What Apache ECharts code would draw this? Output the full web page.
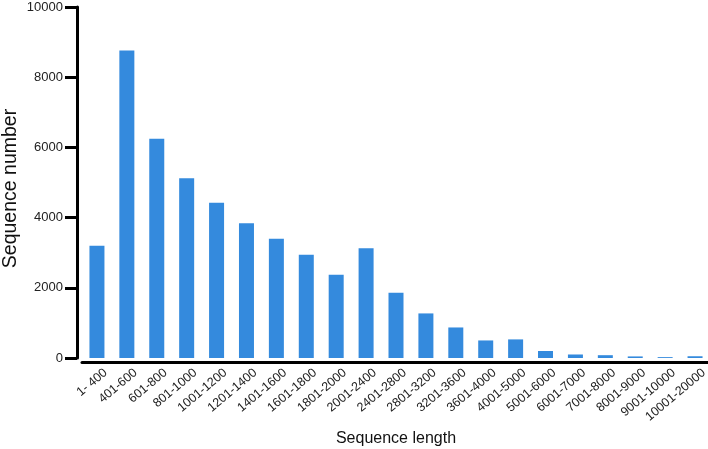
<!DOCTYPE html>
<html>
<head>
<meta charset="utf-8">
<script src="https://cdn.jsdelivr.net/npm/echarts@6/dist/echarts.min.js"></script>
<style>html,body{margin:0;padding:0;background:#fff}#c{width:708px;height:449px}</style>
</head>
<body>
<div id="c"></div>
<script>
var categories = ['1- 400','401-600','601-800','801-1000','1001-1200','1201-1400','1401-1600','1601-1800','1801-2000','2001-2400','2401-2800','2801-3200','3201-3600','3601-4000','4001-5000','5001-6000','6001-7000','7001-8000','8001-9000','9001-10000','10001-20000'];
var counts = [3200, 8760, 6250, 5120, 4420, 3840, 3400, 2940, 2370, 3130, 1860, 1270, 870, 500, 530, 200, 100, 80, 45, 25, 50];
var yTicks = {min: 0, max: 10000, interval: 2000};

var chart = echarts.init(document.getElementById('c'), null, {renderer: 'canvas'});
chart.setOption({
  animation: false,
  backgroundColor: '#fff',
  textStyle: {fontFamily: 'Liberation Sans, Arial, sans-serif'},
  grid: {left: 82, right: -2, top: 7, bottom: 91, containLabel: false, outerBoundsMode: 'none'},
  xAxis: {
    type: 'category',
    data: categories,
    offset: 4,
    name: 'Sequence length',
    nameLocation: 'middle',
    nameGap: 69,
    nameMoveOverlap: false,
    nameTextStyle: {fontSize: 16, color: '#111'},
    axisLine: {onZero: false, lineStyle: {color: '#000', width: 3}},
    axisTick: {show: false},
    axisLabel: {rotate: 40, fontSize: 12.5, color: '#222', margin: 8, interval: 0, verticalAlign: 'top', padding: [0, -6, 0, 0]}
  },
  yAxis: {
    type: 'value',
    min: yTicks.min, max: yTicks.max, interval: yTicks.interval,
    offset: 5,
    name: 'Sequence number',
    nameLocation: 'middle',
    nameGap: 56,
    nameMoveOverlap: false,
    nameTextStyle: {fontSize: 19.5, color: '#111', padding: [0, 12, 0, 0]},
    axisLine: {show: true, onZero: false, lineStyle: {color: '#000', width: 3}},
    axisTick: {show: true, length: 12, lineStyle: {color: '#000', width: 3}},
    axisLabel: {fontSize: 13, color: '#222', margin: 14, formatter: function (v) { return String(v); }},
    splitLine: {show: false}
  },
  series: [{
    type: 'bar',
    data: counts,
    barWidth: 15,
    itemStyle: {color: '#348ADD'}
  }]
});
</script>
</body>
</html>
